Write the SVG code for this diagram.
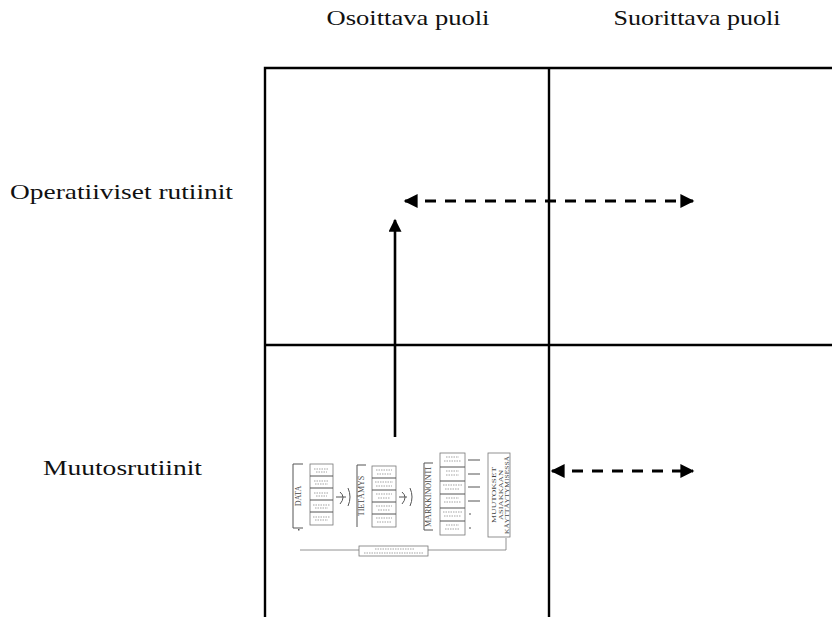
<svg xmlns="http://www.w3.org/2000/svg" width="832" height="617" viewBox="0 0 832 617">
  <style>
    .lbl { font-family: "Liberation Serif", "DejaVu Serif", serif; font-size: 21px; fill: #111; }
    .grid { stroke: #000; stroke-width: 2.4; fill: none; }
    .solid { stroke: #000; stroke-width: 2.6; fill: none; }
    .dash { stroke: #000; stroke-width: 2.8; fill: none; stroke-dasharray: 11 9; }
    .mini { stroke: #777; stroke-width: 0.8; fill: #fff; }
    .minidark { stroke: #555; stroke-width: 1; fill: none; }
    .minitxt { font-family: "Liberation Serif", serif; font-size: 8px; fill: #444; }
    .outtxt { font-family: "Liberation Serif", serif; font-size: 6.5px; fill: #444; }
    .scrib { stroke: #999; stroke-width: 0.9; stroke-dasharray: 1.5 1; }
  </style>
  <defs>
    <marker id="head" viewBox="0 0 10 10" refX="9" refY="5" markerWidth="5.5" markerHeight="5" orient="auto-start-reverse" markerUnits="strokeWidth">
      <path d="M0,0 L10,5 L0,10 Z" fill="#000"/>
    </marker>
  </defs>

  <rect width="832" height="617" fill="#fff"/>

  <!-- column and row headings -->
  <g id="col-osoittava"><text class="lbl" x="408" y="25" text-anchor="middle" textLength="163" lengthAdjust="spacingAndGlyphs">Osoittava puoli</text></g>
  <g id="col-suorittava"><text class="lbl" x="697" y="25" text-anchor="middle" textLength="167" lengthAdjust="spacingAndGlyphs">Suorittava puoli</text></g>
  <g id="row-operatiiviset"><text class="lbl" x="10" y="199" textLength="223" lengthAdjust="spacingAndGlyphs">Operatiiviset rutiinit</text></g>
  <g id="row-muutos"><text class="lbl" x="43" y="475" textLength="159" lengthAdjust="spacingAndGlyphs">Muutosrutiinit</text></g>

  <!-- 2x2 grid -->
  <g id="grid">
    <path class="grid" d="M265,617 V68 H832"/>
    <path class="grid" d="M549,68 V617"/>
    <path class="grid" d="M265,345 H832"/>
  </g>

  <!-- embedded process chart -->
  <g id="process-chart">
    <!-- DATA -->
    <path class="minidark" d="M303,464 H293 V528 H303"/>
    <text class="minitxt" transform="translate(301,496) rotate(-90)" text-anchor="middle">DATA</text>
    <g>
      <rect class="mini" x="310" y="464" width="23" height="61"/>
      <path class="minidark" d="M310,476 H333 M310,488 H333 M310,500 H333 M310,512 H333"/>
      <path class="scrib" d="M314,469 H329 M316,472 H327 M314,481 H329 M315,484 H328 M314,493 H329 M316,496 H327 M313,505 H330 M315,508 H328 M313,517 H330 M315,520 H328"/>
    </g>
    <path class="minidark" d="M336,497 H346 M340,492 q6,5 0,12 M348,488 q4,9 0,18" />
    <!-- TIETÄMYS -->
    <path class="minidark" d="M366,465 H357 V527"/>
    <text class="minitxt" transform="translate(364,496) rotate(-90)" text-anchor="middle">TIETÄMYS</text>
    <g>
      <rect class="mini" x="372" y="466" width="24" height="61"/>
      <path class="minidark" d="M372,478 H396 M372,490 H396 M372,502 H396 M372,514 H396"/>
      <path class="scrib" d="M376,470 H392 M377,474 H391 M375,482 H393 M376,486 H392 M376,494 H392 M378,498 H390 M376,506 H392 M378,510 H390 M376,518 H392 M377,522 H391"/>
    </g>
    <path class="minidark" d="M399,497 H407 M402,492 q6,5 0,12 M410,488 q4,9 0,18" />
    <!-- MARKKINOINTI -->
    <path class="minidark" d="M433,463 H424 V530 H433"/>
    <text class="minitxt" transform="translate(431,497) rotate(-90)" text-anchor="middle">MARKKINOINTI</text>
    <g>
      <rect class="mini" x="440" y="453" width="25" height="82"/>
      <path class="minidark" d="M440,467 H465 M440,481 H465 M440,494 H465 M440,508 H465 M440,521 H465"/>
      <path class="scrib" d="M446,457 H459 M444,461 H461 M446,471 H459 M446,475 H459 M443,485 H462 M445,489 H460 M446,498 H459 M444,502 H461 M443,512 H462 M444,516 H461 M446,525 H459 M445,529 H460"/>
      <path class="minidark" d="M468,460 H480 M468,474 H480 M468,487 H480 M468,501 H480 M469,514 H471 M469,528 H471"/>
    </g>
    <!-- outcome -->
    <rect class="mini" x="488" y="453" width="22" height="84"/>
    <text class="outtxt" transform="translate(496,495) rotate(-90)" text-anchor="middle" textLength="56" lengthAdjust="spacingAndGlyphs">MUUTOKSET</text>
    <text class="outtxt" transform="translate(502.5,495) rotate(-90)" text-anchor="middle" textLength="50" lengthAdjust="spacingAndGlyphs">ASIAKKAAN</text>
    <text class="outtxt" transform="translate(509,495) rotate(-90)" text-anchor="middle" textLength="78" lengthAdjust="spacingAndGlyphs">KÄYTTÄYTYMISESSÄ</text>
    <!-- feedback -->
    <path class="mini" fill="none" d="M300,550 H359 M428,550 H506 V538"/>
    <rect class="mini" x="359" y="546" width="69" height="10"/>
    <path class="scrib" d="M375,549 H414 M364,553 H424"/>
    <rect x="298" y="529" width="1.5" height="1.5" fill="#555"/>
  </g>

  <!-- connectors -->
  <g id="connectors">
    <path class="solid" d="M395,437 V220" marker-end="url(#head)"/>
    <path class="dash" d="M405,201 H693" marker-start="url(#head)" marker-end="url(#head)"/>
    <path class="dash" d="M552,471 H693" marker-start="url(#head)" marker-end="url(#head)"/>
  </g>
</svg>
